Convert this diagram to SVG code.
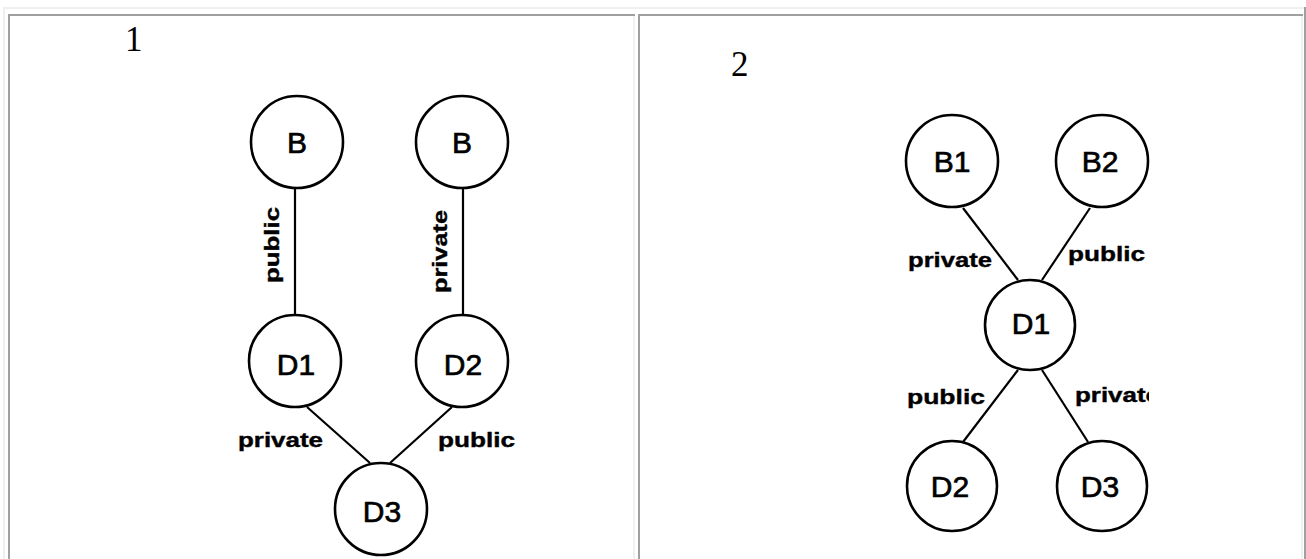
<svg xmlns="http://www.w3.org/2000/svg" width="1306" height="559" viewBox="0 0 1306 559">
<defs>
<style>
.node circle{fill:#fff;stroke:#000;stroke-width:2.6}
.node text{font-family:"Liberation Sans",Arial,sans-serif;font-size:30px;fill:#000;stroke:#000;stroke-width:0.7;text-anchor:middle}
.edges line{stroke:#000;stroke-width:2.2}
.lbl{font-family:"Liberation Sans",Arial,sans-serif;font-size:21px;font-weight:bold;fill:#000;stroke:#000;stroke-width:0.4}
.num{font-family:"Liberation Serif","Times New Roman",serif;font-size:35px;fill:#000}
.light{fill:#f0f0f0}
.dark{fill:#a0a0a0}
</style>
<clipPath id="clip2"><rect x="880" y="0" width="269" height="559"/></clipPath>
</defs>
<rect width="1306" height="559" fill="#fff"/>
<g id="table">
<rect class="light" x="3" y="7" width="1303" height="2"/>
<rect class="light" x="3" y="7" width="2" height="552"/>
<rect class="dark" x="1304" y="7" width="2" height="552"/>
<rect class="dark" x="8" y="14" width="627" height="2"/>
<rect class="dark" x="8" y="14" width="2" height="545"/>
<rect class="light" x="633" y="16" width="2" height="543"/>
<rect class="dark" x="638" y="14" width="665" height="2"/>
<rect class="dark" x="638" y="14" width="2" height="545"/>
<rect class="light" x="1301" y="16" width="2" height="543"/>
</g>
<text class="num" x="125" y="51">1</text>
<text class="num" x="731" y="76">2</text>
<g class="edges" id="edges">
<line x1="295" y1="188" x2="295" y2="315"/>
<line x1="463" y1="188" x2="463" y2="315"/>
<line x1="307" y1="407" x2="370" y2="463"/>
<line x1="452" y1="407" x2="390" y2="463"/>
<line x1="963" y1="208" x2="1018" y2="280"/>
<line x1="1090" y1="208" x2="1042" y2="280"/>
<line x1="1018" y1="370" x2="963" y2="442"/>
<line x1="1042" y1="370" x2="1088" y2="442"/>
</g>
<g id="edge-labels">
<text class="lbl" transform="translate(279,283) rotate(-90)" textLength="76" lengthAdjust="spacingAndGlyphs">public</text>
<text class="lbl" transform="translate(447,293) rotate(-90)" textLength="83" lengthAdjust="spacingAndGlyphs">private</text>
<text class="lbl" x="238" y="447" textLength="85" lengthAdjust="spacingAndGlyphs">private</text>
<text class="lbl" x="438" y="447" textLength="77" lengthAdjust="spacingAndGlyphs">public</text>
<text class="lbl" x="908" y="267" textLength="84" lengthAdjust="spacingAndGlyphs">private</text>
<text class="lbl" x="1068" y="261" textLength="77" lengthAdjust="spacingAndGlyphs">public</text>
<text class="lbl" x="907" y="404" textLength="78" lengthAdjust="spacingAndGlyphs">public</text>
<g clip-path="url(#clip2)"><text class="lbl" x="1075" y="402" textLength="85" lengthAdjust="spacingAndGlyphs">private</text></g>
</g>
<g id="p1-B-left" class="node"><circle cx="297" cy="142" r="46"/><text x="297" y="153">B</text></g>
<g id="p1-B-right" class="node"><circle cx="462" cy="142" r="46"/><text x="462" y="153">B</text></g>
<g id="p1-D1" class="node"><circle cx="295" cy="361" r="46"/><text x="296" y="375">D1</text></g>
<g id="p1-D2" class="node"><circle cx="462" cy="361" r="46"/><text x="463" y="375">D2</text></g>
<g id="p1-D3" class="node"><circle cx="381" cy="509" r="46"/><text x="382" y="522">D3</text></g>
<g id="p2-B1" class="node"><circle cx="952" cy="161" r="46"/><text x="952" y="172">B1</text></g>
<g id="p2-B2" class="node"><circle cx="1102" cy="161" r="46"/><text x="1100" y="172">B2</text></g>
<g id="p2-D1" class="node"><circle cx="1030" cy="325" r="45"/><text x="1031" y="334">D1</text></g>
<g id="p2-D2" class="node"><circle cx="952" cy="486" r="45"/><text x="950" y="497">D2</text></g>
<g id="p2-D3" class="node"><circle cx="1102" cy="486" r="45"/><text x="1100" y="497">D3</text></g>
</svg>
